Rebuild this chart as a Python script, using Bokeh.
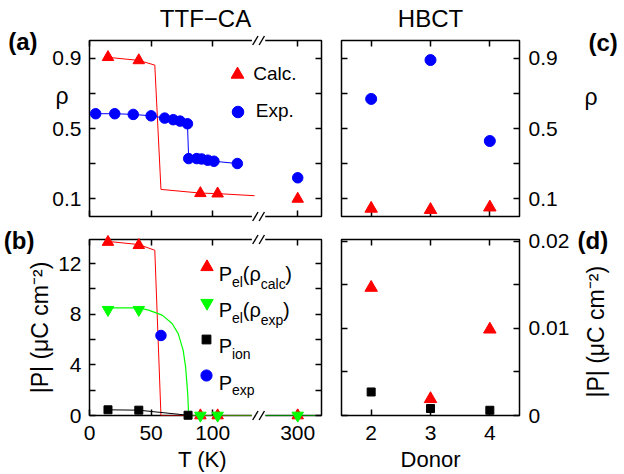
import math
from bokeh.plotting import figure
from bokeh.models import Range1d, LinearAxis, FixedTicker, Label, Legend, LegendItem
from bokeh.layouts import gridplot
from bokeh.embed import file_html
from bokeh.resources import INLINE

# ---------------- data ----------------
# (a) TTF-CA charge transfer rho
T_rho_calc = [15, 40, 90, 104, 300]
rho_calc = [0.905, 0.887, 0.132, 0.130, 0.100]
T_rho_calc_curve = [14, 40, 53, 58, 90, 104, 134]
rho_calc_curve = [0.905, 0.887, 0.86, 0.154, 0.133, 0.130, 0.118]
T_rho_exp = [5, 20.5, 35.5, 50, 61, 68, 73.5, 79.5, 80.5, 87, 91, 96, 101, 120]
rho_exp = [0.584, 0.584, 0.580, 0.572, 0.559, 0.550, 0.542, 0.527,
           0.329, 0.329, 0.327, 0.320, 0.314, 0.301]
T_rho_exp_rt = [300]
rho_exp_rt = [0.22]

# (b) TTF-CA polarization
T_pol = [15, 40, 90, 104, 300]
P_el_calc = [13.7, 13.45, 0, 0, 0]
P_el_exp = [8.35, 8.35, 0, 0, 0]
T_P_calc_curve = [15, 40, 53, 58, 137]
P_calc_curve = [13.75, 13.5, 13.05, 0, 0]
T_P_exp_curve = [15, 40, 48, 59, 67, 72, 76, 78, 79.7, 80.5, 320]
P_exp_curve = [8.5, 8.5, 8.32, 7.93, 7.27, 6.47, 5.16, 3.84, 1.73, 0, 0]
T_P_ion = [15, 40, 80]
P_ion = [0.45, 0.42, 0.02]
T_P_exp = [58]
P_exp = [6.32]

# (c),(d) HBCT
donor = [2, 3, 4]
rho_calc_hbct = [0.045, 0.038, 0.052]
rho_exp_hbct = [0.668, 0.889, 0.429]
P_el_hbct = [0.01467, 0.0019, 0.00988]
P_ion_hbct = [0.0027, 0.0008, 0.0006]

# tick definitions
T_ticks = [0, 50, 100, 300]
T_tick_labels = ["0", "50", "100", "300"]
donor_ticks = [2, 3, 4]
rho_ticks = [0.1, 0.3, 0.5, 0.7, 0.9]
rho_tick_labels = ["0.1", "", "0.5", "", "0.9"]
P_ticks = [0, 2, 4, 6, 8, 10, 12]
P_tick_labels = ["0", "", "4", "", "8", "", "12"]
Pd_ticks = [0, 0.005, 0.01, 0.015, 0.02]
Pd_tick_labels = ["0", "", "0.01", "", "0.02"]

# broken temperature axis: the gap between ~137 K and ~268 K is removed
T_SHIFT = 131.0
def tx(T):
    return T if T <= 200 else T - T_SHIFT

# ---------------- style / layout ----------------
FONT = "Liberation Sans"
RED, BLUE, GREEN, BLACK = "#ff0000", "#0000ff", "#00ff00", "#000000"
TICK_FS = "21px"
P_LABEL = "|P| (\u03bcC cm\u207b\u00b2)"

LF = (86, 321)    # left panels frame x (page px)
RF = (341, 529)   # right panels frame x
TF = (40, 216)    # top panels frame y
BF = (239, 415)   # bottom panels frame y
XL = (0.0, 188.3)
XR = (1.5, 4.5)
YR = (0.0, 1.0)
YP = (0.0, 13.9)
YD = (0.0, 0.0202)


def fx(px, fr, rg):
    return rg[0] + (px - fr[0]) / (fr[1] - fr[0]) * (rg[1] - rg[0])


def fy(py, fr, rg):
    return rg[0] + (fr[1] - py) / (fr[1] - fr[0]) * (rg[1] - rg[0])


def make_fig(xr, yr, w, h, bl, br, bt, bb):
    p = figure(width=w, height=h, x_range=Range1d(*xr), y_range=Range1d(*yr),
               output_backend="svg", toolbar_location=None,
               min_border_left=bl, min_border_right=br,
               min_border_top=bt, min_border_bottom=bb)
    p.grid.grid_line_color = None
    p.outline_line_color = "black"
    p.outline_line_width = 1.5
    p.background_fill_color = "white"
    p.border_fill_color = "white"
    p.add_layout(LinearAxis(), "above")
    p.add_layout(LinearAxis(), "right")
    return p


def style_axis(ax, ticks, labels=None, standoff=8):
    ax.ticker = FixedTicker(ticks=ticks)
    ax.axis_line_color = None
    ax.major_tick_in = 6
    ax.major_tick_out = 0
    ax.major_tick_line_color = "black"
    ax.major_tick_line_width = 1.5
    ax.minor_tick_line_color = None
    ax.axis_label_text_font = FONT
    ax.axis_label_text_font_style = "normal"
    ax.axis_label_text_color = "black"
    ax.axis_label_text_font_size = "22px"
    if labels is None:
        ax.major_label_overrides = {t: "" for t in ticks}
        ax.major_label_text_font_size = "0px"
        ax.major_label_standoff = 0
    else:
        ax.major_label_overrides = {t: l for t, l in zip(ticks, labels)}
        ax.major_label_text_font = FONT
        ax.major_label_text_font_size = TICK_FS
        ax.major_label_text_color = "black"
        ax.major_label_standoff = standoff


def add_tag_axis(p, side, y, text, size, standoff, bold=False, orientation=None):
    # an extra, tick-less axis that carries a single text (panel letter / rho / label)
    ax = LinearAxis()
    ax.ticker = FixedTicker(ticks=[y])
    ax.major_label_overrides = {y: text}
    ax.axis_line_color = None
    ax.major_tick_line_color = None
    ax.minor_tick_line_color = None
    ax.major_tick_in = 0
    ax.major_tick_out = 0
    ax.major_label_standoff = standoff
    ax.major_label_text_font = FONT
    ax.major_label_text_font_size = size
    ax.major_label_text_font_style = "bold" if bold else "normal"
    ax.major_label_text_color = "black"
    if orientation is not None:
        ax.major_label_orientation = orientation
    p.add_layout(ax, side)


def add_data_text(p, fr_x, rg_x, fr_y, rg_y, px, py, text, size, align="left",
                  baseline="alphabetic"):
    p.add_layout(Label(x=fx(px, fr_x, rg_x), y=fy(py, fr_y, rg_y), text=text,
                       text_font=FONT, text_font_size=size,
                       text_align=align, text_baseline=baseline,
                       text_color="black", level="overlay"))


def add_key(p, r, fr_x, fr_y, cx, cy, g, label=" ", standoff=0, fs="1px"):
    leg = Legend(items=[LegendItem(label=label, renderers=[r])],
                 location=(cx - g / 2 - fr_x[0], fr_y[1] - (cy + g / 2)),
                 orientation="vertical", glyph_width=g, glyph_height=g,
                 spacing=0, padding=0, margin=0, label_standoff=standoff,
                 label_height=0, label_width=0, label_text_font=FONT,
                 label_text_font_size=fs, label_text_color="black",
                 border_line_color=None, background_fill_alpha=0)
    p.add_layout(leg)


def add_break(p, fr_y, rg_y):
    for py in fr_y:
        y = fy(py, fr_y, rg_y)
        p.segment(x0=[fx(250.5, LF, XL)], y0=[y], x1=[fx(264.0, LF, XL)], y1=[y],
                  line_color="white", line_width=5, level="overlay")
        for cx in (254.0, 260.5):
            p.segment(x0=[fx(cx - 2.7, LF, XL)], y0=[fy(py + 4.5, fr_y, rg_y)],
                      x1=[fx(cx + 2.7, LF, XL)], y1=[fy(py - 4.5, fr_y, rg_y)],
                      line_color="black", line_width=1.4, level="overlay")


Tx_ticks = [tx(t) for t in T_ticks]

# ---------------- (a) ----------------
pa = make_fig(XL, YR, 331, 222, 86, 10, 40, 6)
style_axis(pa.below[0], Tx_ticks)
style_axis(pa.above[0], Tx_ticks)
style_axis(pa.left[0], rho_ticks, rho_tick_labels)
style_axis(pa.right[0], rho_ticks)
pa.above[0].axis_label = "TTF\u2212CA"
pa.above[0].axis_label_text_font_size = "24px"
pa.above[0].axis_label_standoff = 9
add_tag_axis(pa, "left", fy(41, TF, YR), "(a)", "24px", 12, bold=True)
add_tag_axis(pa, "left", fy(95, TF, YR), "\u03c1", "23px", -63)

pa.line([tx(t) for t in T_rho_calc_curve], rho_calc_curve, line_color=RED, line_width=1)
pa.line([tx(t) for t in T_rho_exp], rho_exp, line_color=BLUE, line_width=1)
r_a_calc = pa.scatter([tx(t) for t in T_rho_calc], rho_calc, marker="triangle", size=11.5,
                      fill_color=RED, line_color=RED, level="overlay")
r_a_exp = pa.scatter([tx(t) for t in T_rho_exp], rho_exp, marker="circle", size=10.5,
                     fill_color=BLUE, line_color=BLUE, level="overlay")
pa.scatter([tx(t) for t in T_rho_exp_rt], rho_exp_rt, marker="circle", size=10.5,
           fill_color=BLUE, line_color=BLUE, level="overlay")
add_break(pa, TF, YR)

add_key(pa, r_a_calc, LF, TF, 234.3, 74.3, 32, label="Calc.", standoff=0, fs="19px")
add_key(pa, r_a_exp, LF, TF, 234.3, 111.0, 29, label="Exp.", standoff=4, fs="19px")

# ---------------- (b) ----------------
pb = make_fig(XL, YP, 331, 252, 86, 10, 17, 59)
style_axis(pb.below[0], Tx_ticks, T_tick_labels, standoff=10)
style_axis(pb.above[0], Tx_ticks)
style_axis(pb.left[0], P_ticks, P_tick_labels)
style_axis(pb.right[0], P_ticks)
pb.below[0].axis_label = "T  (K)"
pb.below[0].axis_label_standoff = 4
pb.left[0].axis_label = P_LABEL
pb.left[0].axis_label_text_font_size = "23px"
pb.left[0].axis_label_standoff = 2
add_tag_axis(pb, "left", fy(240, BF, YP), "(b)", "24px", -10, bold=True)

pb.line([tx(t) for t in T_P_calc_curve], P_calc_curve, line_color=RED, line_width=1)
pb.line([tx(t) for t in T_P_ion], P_ion, line_color=BLACK, line_width=1)
pb.line([tx(t) for t in T_P_exp_curve], P_exp_curve, line_color=GREEN, line_width=1.2)
r_b_calc = pb.scatter([tx(t) for t in T_pol], P_el_calc, marker="triangle", size=11.5,
                      fill_color=RED, line_color=RED, level="overlay")
r_b_exp = pb.scatter([tx(t) for t in T_pol], P_el_exp, marker="inverted_triangle", size=11.5,
                     fill_color=GREEN, line_color=GREEN, level="overlay")
r_b_ion = pb.scatter([tx(t) for t in T_P_ion], P_ion, marker="square", size=8,
                     fill_color=BLACK, line_color=BLACK, level="overlay")
r_b_pexp = pb.scatter([tx(t) for t in T_P_exp], P_exp, marker="circle", size=10.5,
                      fill_color=BLUE, line_color=BLUE, level="overlay")
add_break(pb, BF, YP)

LEG_B_CENTERS = [266.7, 302.8, 338.9, 375.0]
LEG_B_X = 203.3
for r, cy, g in zip((r_b_calc, r_b_exp, r_b_ion, r_b_pexp), LEG_B_CENTERS, (31, 31, 22, 28)):
    add_key(pb, r, LF, BF, LEG_B_X, cy, g)

rows = [
    [("P", 217.0, 0, "20px"), ("el", 230.3, 7.5, "14px"), ("(\u03c1", 241.2, 0, "20px"),
     ("calc", 259.5, 10, "14px"), (")", 284.4, 0, "20px")],
    [("P", 217.0, 0, "20px"), ("el", 230.3, 7.5, "14px"), ("(\u03c1", 241.2, 0, "20px"),
     ("exp", 259.5, 10, "14px"), (")", 282.1, 0, "20px")],
    [("P", 217.0, 0, "20px"), ("ion", 230.3, 7.5, "14px")],
    [("P", 217.0, 0, "20px"), ("exp", 230.3, 7.5, "14px")],
]
for center, parts in zip(LEG_B_CENTERS, rows):
    base = center + 7
    for text, px, dy, fs in parts:
        add_data_text(pb, LF, XL, BF, YP, px, base + dy, text, fs)

# ---------------- (c) ----------------
pc = make_fig(XR, YR, 293, 222, 10, 95, 40, 6)
style_axis(pc.below[0], donor_ticks)
style_axis(pc.above[0], donor_ticks)
style_axis(pc.left[0], rho_ticks)
style_axis(pc.right[0], rho_ticks, rho_tick_labels, standoff=9)
pc.above[0].axis_label = "HBCT"
pc.above[0].axis_label_text_font_size = "24px"
pc.above[0].axis_label_standoff = 9
add_tag_axis(pc, "right", fy(42, TF, YR), "(c)", "24px", 28, bold=True)
add_tag_axis(pc, "right", fy(96, TF, YR), "\u03c1", "23px", -36)
pc.scatter(donor, rho_exp_hbct, marker="circle", size=11, fill_color=BLUE, line_color=BLUE, level="overlay")
pc.scatter(donor, rho_calc_hbct, marker="triangle", size=12.5, fill_color=RED, line_color=RED, level="overlay")

# ---------------- (d) ----------------
pd_ = make_fig(XR, YD, 293, 252, 10, 95, 17, 59)
style_axis(pd_.below[0], donor_ticks, ["2", "3", "4"], standoff=10)
style_axis(pd_.above[0], donor_ticks)
style_axis(pd_.left[0], Pd_ticks)
style_axis(pd_.right[0], Pd_ticks, Pd_tick_labels, standoff=9)
pd_.below[0].axis_label = "Donor"
pd_.below[0].axis_label_standoff = 4
add_tag_axis(pd_, "right", fy(240, BF, YD), "(d)", "24px", 5, bold=True)
add_tag_axis(pd_, "right", fy(397, BF, YD), P_LABEL, "23px", -16, orientation=math.pi / 2)
pd_.scatter(donor, P_el_hbct, marker="triangle", size=12.5, fill_color=RED, line_color=RED, level="overlay")
pd_.scatter(donor, P_ion_hbct, marker="square", size=8, fill_color=BLACK, line_color=BLACK, level="overlay")

grid = gridplot([[pa, pc], [pb, pd_]], toolbar_location=None)
open("out.html", "w").write(file_html(grid, INLINE))
